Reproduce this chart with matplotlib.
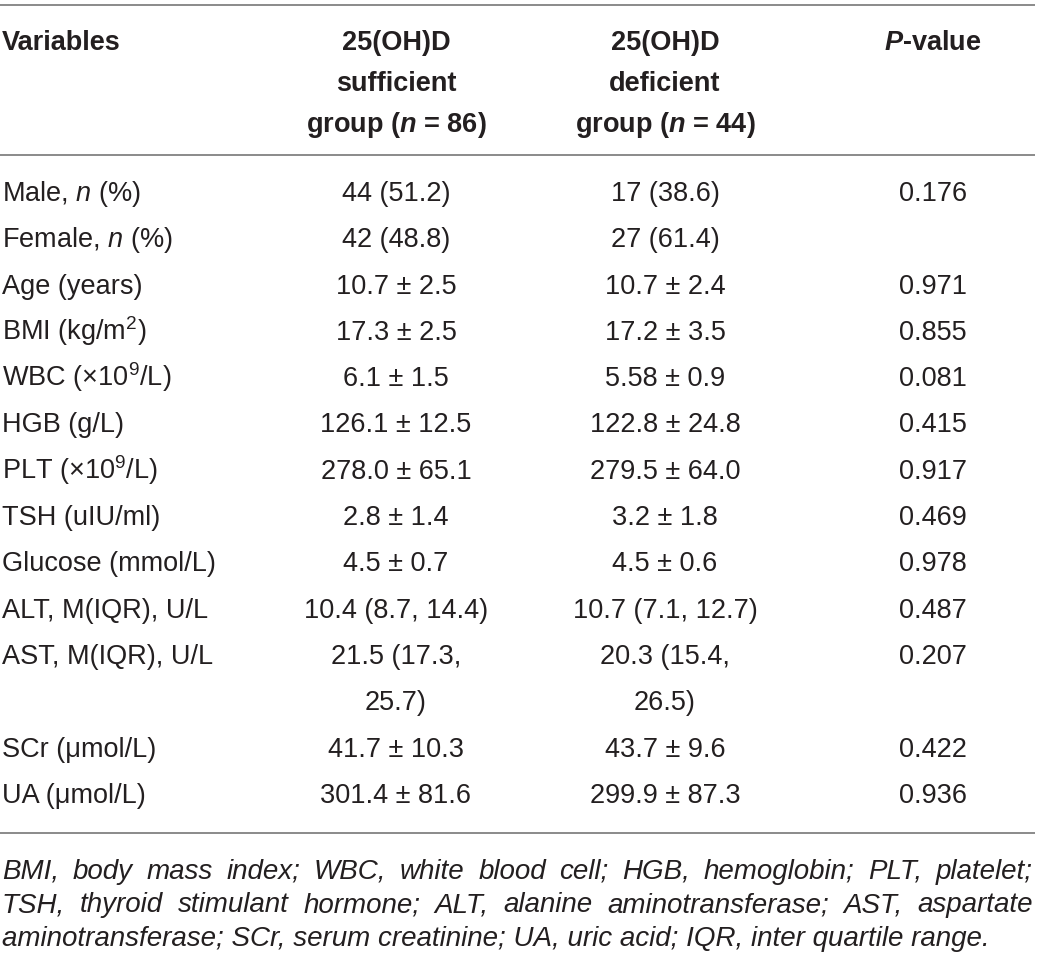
import matplotlib
matplotlib.use("Agg")
import matplotlib.pyplot as plt

plt.rcParams['font.family'] = ['Liberation Sans', 'DejaVu Sans']
plt.rcParams['mathtext.fontset'] = 'custom'
plt.rcParams['mathtext.rm'] = 'Liberation Sans'
plt.rcParams['mathtext.it'] = 'Liberation Sans:italic'
plt.rcParams['mathtext.bf'] = 'Liberation Sans:bold'
plt.rcParams['mathtext.bfit'] = 'Liberation Sans:italic:bold'

# table content
headers = ["Variables",
           "25(OH)D\nsufficient\ngroup ($\\mathbfit{n}$ = 86)",
           "25(OH)D\ndeficient\ngroup ($\\mathbfit{n}$ = 44)",
           "$\\mathbfit{P}$-value"]
variables = ["Male, $\\mathit{n}$ (%)", "Female, $\\mathit{n}$ (%)", "Age (years)",
             "BMI (kg/m$^{2}$)", "WBC (×10$^{9}$/L)", "HGB (g/L)",
             "PLT (×10$^{9}$/L)", "TSH (uIU/ml)", "Glucose (mmol/L)",
             "ALT, M(IQR), U/L", "AST, M(IQR), U/L", "SCr (μmol/L)", "UA (μmol/L)"]
sufficient = ["44 (51.2)", "42 (48.8)", "10.7 ± 2.5", "17.3 ± 2.5", "6.1 ± 1.5",
              "126.1 ± 12.5", "278.0 ± 65.1", "2.8 ± 1.4", "4.5 ± 0.7",
              "10.4 (8.7, 14.4)", "21.5 (17.3,\n25.7)", "41.7 ± 10.3", "301.4 ± 81.6"]
deficient = ["17 (38.6)", "27 (61.4)", "10.7 ± 2.4", "17.2 ± 3.5", "5.58 ± 0.9",
             "122.8 ± 24.8", "279.5 ± 64.0", "3.2 ± 1.8", "4.5 ± 0.6",
             "10.7 (7.1, 12.7)", "20.3 (15.4,\n26.5)", "43.7 ± 9.6", "299.9 ± 87.3"]
p_values = ["0.176", "", "0.971", "0.855", "0.081", "0.415", "0.917", "0.469",
            "0.978", "0.487", "0.207", "0.422", "0.936"]
footnote = [
    "BMI, body mass index; WBC, white blood cell; HGB, hemoglobin; PLT, platelet;",
    "TSH, thyroid stimulant hormone; ALT, alanine aminotransferase; AST, aspartate",
    "aminotransferase; SCr, serum creatinine; UA, uric acid; IQR, inter quartile range.",
]

W, H = 1040, 957
fig = plt.figure(figsize=(W / 100, H / 100), dpi=100)
ax = fig.add_axes([0, 0, 1, 1])
ax.set_xlim(0, W)
ax.set_ylim(H, 0)
ax.axis('off')

txt_col = '#231f20'
rule_col = '#8a8a8a'
fs = 19.5
col_x = [2, 396, 665, 933]
x_right = 1035

# rules
for y in [5, 155, 833]:
    ax.plot([0, x_right], [y, y], color=rule_col, lw=1.4, solid_capstyle='butt')

# header
head_base = 50
head_step = 41
for i, h in enumerate(headers):
    for j, part in enumerate(h.split("\n")):
        ax.text(col_x[i], head_base + j * head_step, part, fontsize=fs,
                fontweight='bold', color=txt_col, va='baseline',
                ha='left' if i == 0 else 'center')

# body
row_base = 201
row_step = 46.3
line = 0
for i in range(len(variables)):
    y = row_base + line * row_step
    ax.text(col_x[0], y, variables[i], fontsize=fs, color=txt_col, va='baseline', ha='left')
    n_lines = 1
    for k, col in enumerate([sufficient, deficient, p_values]):
        parts = col[i].split("\n")
        n_lines = max(n_lines, len(parts))
        for j, part in enumerate(parts):
            ax.text(col_x[k + 1], y + j * row_step, part, fontsize=fs,
                    color=txt_col, va='baseline', ha='center')
    line += n_lines

# footnote, justified like the journal layout
renderer = fig.canvas.get_renderer()
foot_base = 879
foot_step = 33.5
line_w = x_right - 2 - col_x[0]

# pick the italic size so the full lines fit with normal word spacing
foot_fs = 20.0
probe = ax.text(0, -100, "", style='italic')
while foot_fs > 12:
    probe.set_fontsize(foot_fs)
    widest = 0
    for s in footnote[:2]:
        probe.set_text(s)
        widest = max(widest, probe.get_window_extent(renderer).width)
    if widest <= line_w - 4:
        break
    foot_fs -= 0.1
probe.remove()

for li, sentence in enumerate(footnote):
    y = foot_base + li * foot_step
    if li == len(footnote) - 1:
        ax.text(col_x[0], y, sentence, fontsize=foot_fs, style='italic',
                color=txt_col, va='baseline', ha='left')
        continue
    words = sentence.split(" ")
    texts = [ax.text(0, y, w, fontsize=foot_fs, style='italic', color=txt_col,
                     va='baseline', ha='left') for w in words]
    widths = [t.get_window_extent(renderer).width for t in texts]
    gap = (line_w - sum(widths)) / (len(words) - 1)
    x = col_x[0]
    for t, w in zip(texts, widths):
        t.set_x(x)
        x += w + gap

plt.savefig("out.png", dpi=100, facecolor='white')
plt.close()
